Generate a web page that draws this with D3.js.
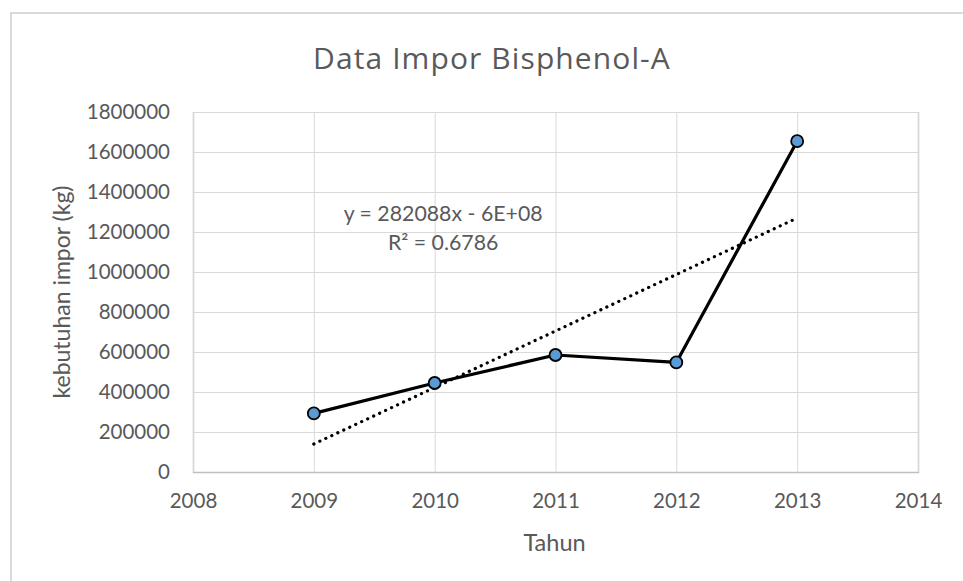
<!DOCTYPE html>
<html>
<head>
<meta charset="utf-8">
<script src="https://cdn.jsdelivr.net/npm/d3@7"></script>
<style>
  body { margin: 0; background: #fff; }
  text { font-family: Lato, "Open Sans", sans-serif; fill: #595959; }
</style>
</head>
<body>
<svg id="chart"></svg>
<script>
// data
const years = [2009, 2010, 2011, 2012, 2013];
const imports = [293000, 445000, 585000, 548000, 1654000];
const xTicks = [2008, 2009, 2010, 2011, 2012, 2013, 2014];
const yTicks = [0, 200000, 400000, 600000, 800000, 1000000, 1200000, 1400000, 1600000, 1800000];
const eqLines = ["y = 282088x - 6E+08", "R² = 0.6786"];

const W = 963, H = 581;
const margin = { top: 112, right: 45, bottom: 109, left: 193 };
const width = W - margin.left - margin.right;
const height = H - margin.top - margin.bottom;

const root = d3.select("#chart").attr("width", W).attr("height", H);

// chart frame
root.append("rect")
  .attr("x", 11).attr("y", 13)
  .attr("width", W + 20).attr("height", H + 20)
  .attr("fill", "none").attr("stroke", "#d9d9d9").attr("stroke-width", 2);

root.append("text")
  .attr("x", 492).attr("y", 69)
  .attr("text-anchor", "middle")
  .attr("font-size", 30)
  .style("font-family", "'Open Sans', sans-serif")
  .style("letter-spacing", "1.1px")
  .text("Data Impor Bisphenol-A");

const svg = root.append("g")
  .attr("transform", `translate(${margin.left},${margin.top})`);

const x = d3.scaleLinear().domain([2008, 2014]).range([0, width]);
const y = d3.scaleLinear().domain([0, 1800000]).range([height, 0]);

// grid
svg.append("g")
  .call(d3.axisLeft(y).tickValues(yTicks).tickSize(-width).tickFormat(""))
  .call(g => g.select(".domain").remove())
  .call(g => g.selectAll("line").attr("stroke", "#d9d9d9"));
svg.append("g")
  .attr("transform", `translate(0,${height})`)
  .call(d3.axisBottom(x).tickValues(xTicks).tickSize(-height).tickFormat(""))
  .call(g => g.select(".domain").attr("stroke", "#bfbfbf").attr("stroke-width", 1.5))
  .call(g => g.selectAll("line").attr("stroke", "#d9d9d9"));

// tick labels
svg.append("g")
  .attr("transform", `translate(0,${height})`)
  .call(d3.axisBottom(x).tickValues(xTicks).tickSize(0).tickPadding(21).tickFormat(d3.format("d")))
  .call(g => g.select(".domain").remove())
  .call(g => g.selectAll("text").attr("font-size", 20.5).attr("fill", "#595959").attr("font-family", null));
svg.append("g")
  .call(d3.axisLeft(y).tickValues(yTicks).tickSize(0).tickPadding(23).tickFormat(d3.format("d")))
  .call(g => g.select(".domain").remove())
  .call(g => g.selectAll("text").attr("font-size", 20.5).attr("fill", "#595959").attr("font-family", null));

// axis titles
svg.append("text")
  .attr("x", x(2011) - 1).attr("y", height + 79)
  .attr("text-anchor", "middle").attr("font-size", 23.5)
  .text("Tahun");
svg.append("text")
  .attr("transform", `translate(${-123},${height / 2}) rotate(-90)`)
  .attr("text-anchor", "middle").attr("font-size", 23)
  .text("kebutuhan impor (kg)");

// linear trendline (least squares)
const mx = d3.mean(years), my = d3.mean(imports);
const slope = d3.sum(years, (d, i) => (d - mx) * (imports[i] - my)) / d3.sum(years, d => (d - mx) ** 2);
const icpt = my - slope * mx;
const x0 = years[0], x1 = years[years.length - 1];
svg.append("line")
  .attr("x1", x(x0)).attr("y1", y(icpt + slope * x0))
  .attr("x2", x(x1)).attr("y2", y(icpt + slope * x1))
  .attr("stroke", "#000").attr("stroke-width", 3.2)
  .attr("stroke-linecap", "round").attr("stroke-dasharray", "0.1 6.5");

// series line + markers
const pts = years.map((d, i) => [d, imports[i]]);
svg.append("path")
  .datum(pts)
  .attr("fill", "none").attr("stroke", "#000").attr("stroke-width", 3.2)
  .attr("stroke-linejoin", "round")
  .attr("d", d3.line().x(d => x(d[0])).y(d => y(d[1])));
svg.selectAll(".pt")
  .data(pts)
  .enter()
  .append("circle")
  .attr("class", "pt")
  .attr("cx", d => x(d[0])).attr("cy", d => y(d[1]))
  .attr("r", 6)
  .attr("fill", "#5b9bd5").attr("stroke", "#000").attr("stroke-width", 1.8);

// equation label
svg.append("text")
  .attr("x", x(2010.07)).attr("y", y(1255000))
  .attr("text-anchor", "middle").attr("font-size", 21.3)
  .selectAll("tspan")
  .data(eqLines)
  .enter()
  .append("tspan")
  .attr("x", x(2010.07))
  .attr("dy", (d, i) => i === 0 ? 0 : 29)
  .text(d => d);
</script>
</body>
</html>
